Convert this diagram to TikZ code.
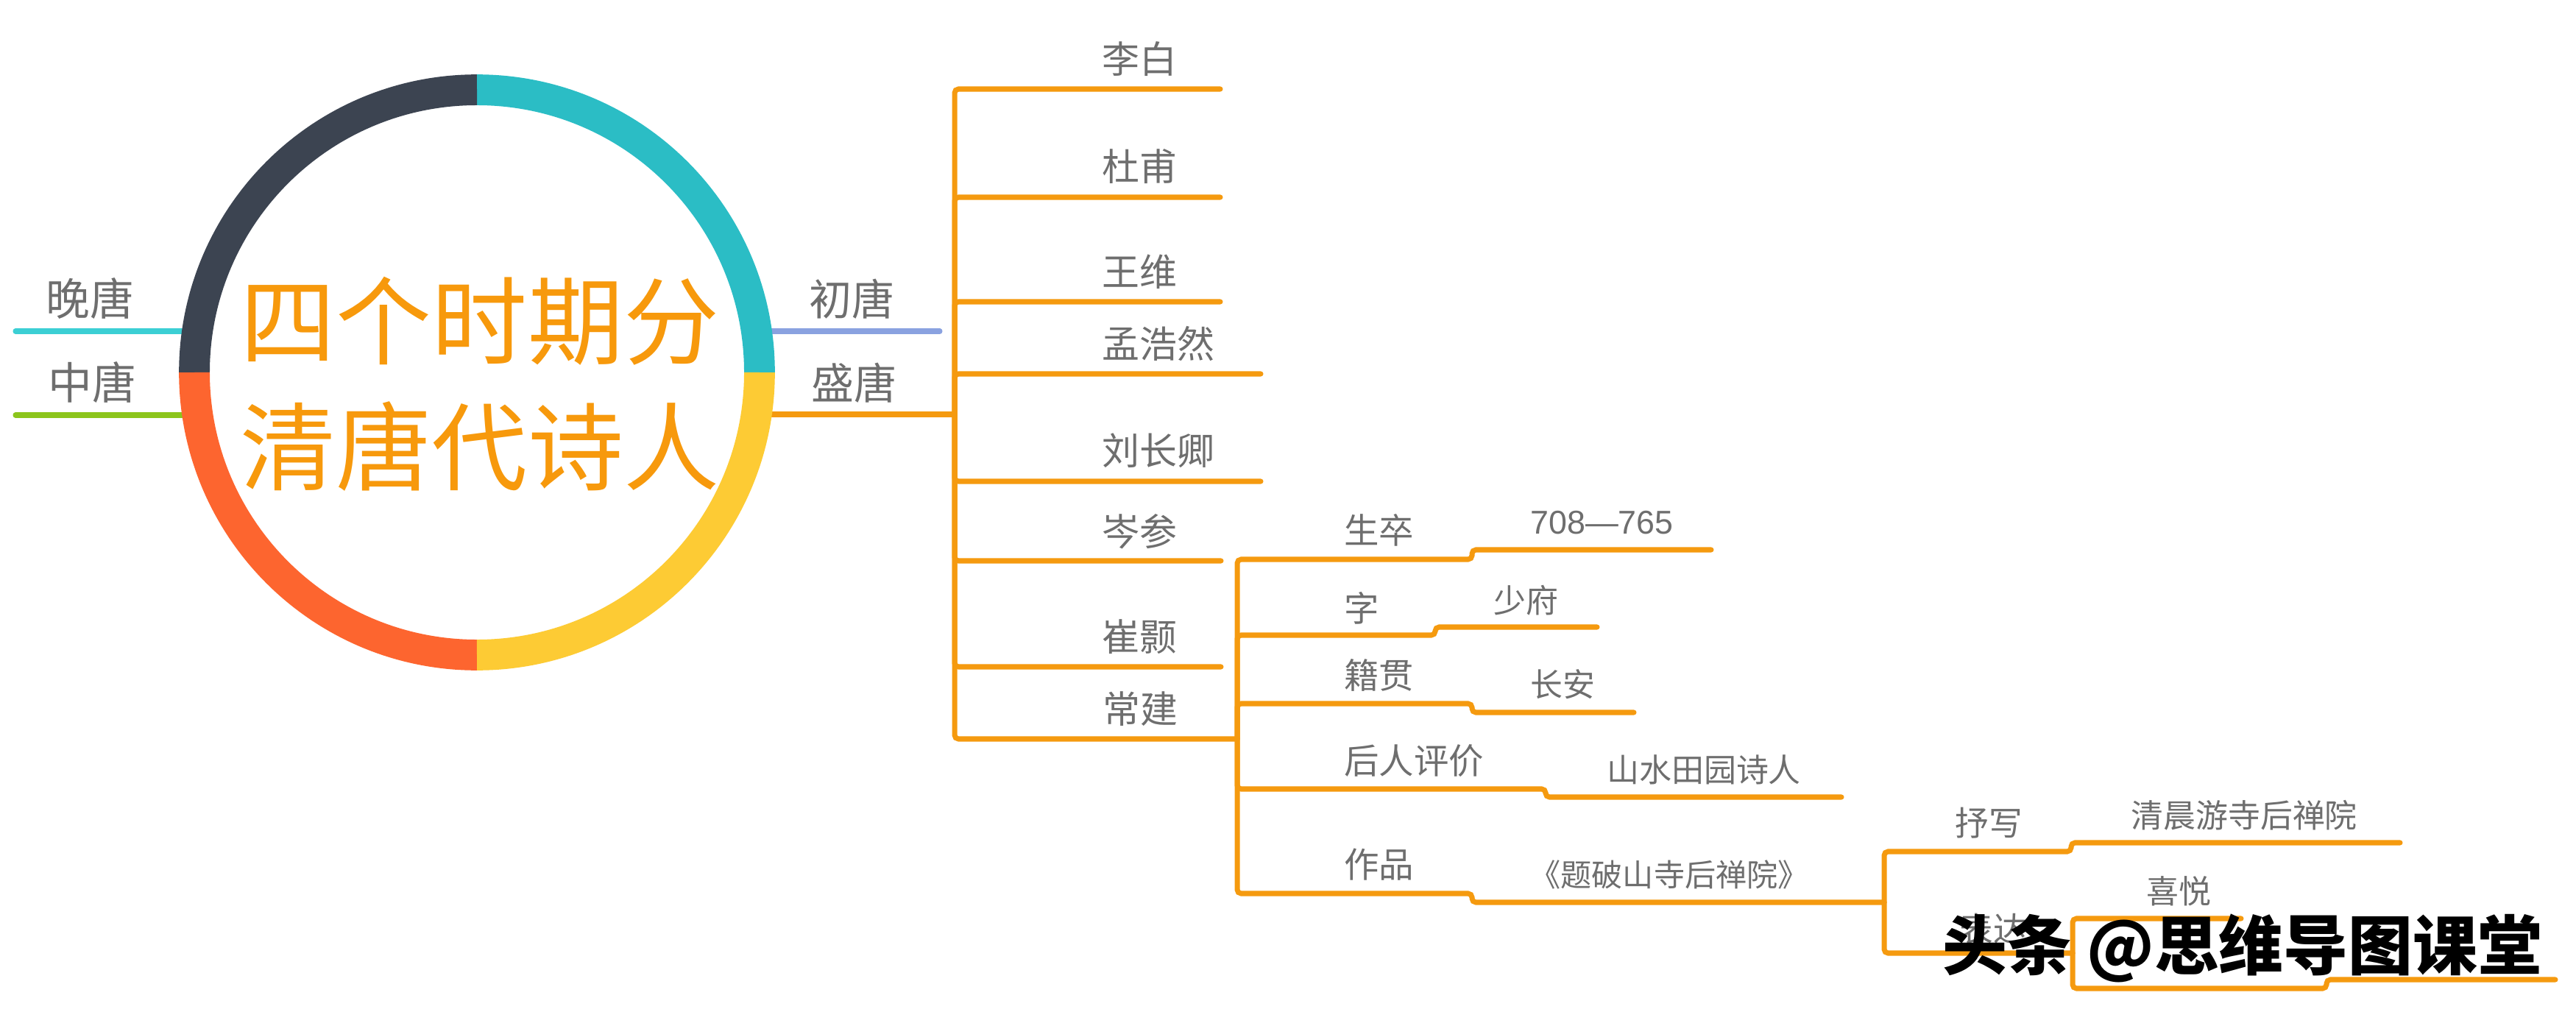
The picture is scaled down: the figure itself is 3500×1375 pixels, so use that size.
\documentclass[tikz,border=0pt]{standalone}
\usepackage{fontspec}
\setmainfont{Liberation Sans}
\newfontfamily\cjk{Noto Sans CJK SC}
\usetikzlibrary{calc}
\definecolor{lineor}{HTML}{F59A0F}
\definecolor{txtgray}{HTML}{6E6E6E}
\definecolor{ringdark}{HTML}{3C4451}
\definecolor{ringteal}{HTML}{2BBDC5}
\definecolor{ringyellow}{HTML}{FDCB34}
\definecolor{ringred}{HTML}{FD652F}
\definecolor{lcyan}{HTML}{3CCFD4}
\definecolor{lgreen}{HTML}{8CC51C}
\definecolor{lblue}{HTML}{8AA2E0}
\definecolor{centor}{HTML}{F7990C}
\tikzset{
  br/.style={draw=lineor, line width=4pt, rounded corners=3pt, line cap=round},
  ring/.style={line width=23.8pt, line cap=butt},
  lbl/.style={font=\cjk\fontsize{#1}{#1}\selectfont, text=txtgray, inner sep=0pt, anchor=west},
  lbl/.default=29pt,
  numlbl/.style={font=\fontsize{25.5pt}{25.5pt}\selectfont, text=txtgray, inner sep=0pt, anchor=west},
  ctitle/.style={font=\cjk\fontsize{74pt}{74pt}\selectfont, text=centor, inner sep=0pt},
  wmark/.style={font=\cjk\bfseries\fontsize{50pt}{50pt}\selectfont, inner sep=0pt}
}
\begin{document}
\begin{tikzpicture}[x=0.02cm,y=-0.02cm]
\useasboundingbox (0,0) rectangle (3500,1375);
\fill[white] (0,0) rectangle (3500,1375);

% junctions
\coordinate (C) at (648,506);
\coordinate (J1) at (1297,563);
\coordinate (J2) at (1681,1004);
\coordinate (J3) at (2560,1226);
\coordinate (J4) at (2816,1295);

% left / right first level lines
\coordinate (wanS) at (21,450);  \coordinate (wanE) at (260,450);
\coordinate (zhongS) at (21,564); \coordinate (zhongE) at (260,564);
\coordinate (chuS) at (1040,450); \coordinate (chuE) at (1277,450);
\coordinate (shengS) at (1040,563);
\draw[line width=4pt, line cap=round, draw=lcyan] (wanS) -- (wanE);
\draw[line width=4pt, line cap=round, draw=lgreen] (zhongS) -- (zhongE);
\draw[line width=4pt, line cap=round, draw=lblue] (chuS) -- (chuE);
\draw[br] (shengS) -- (J1);

% ring
\draw[ring, draw=ringteal] ([shift={(0:7.68cm)}]C) arc[start angle=0, end angle=90, radius=7.68cm];
\draw[ring, draw=ringdark] ([shift={(90:7.68cm)}]C) arc[start angle=90, end angle=180, radius=7.68cm];
\draw[ring, draw=ringred] ([shift={(180:7.68cm)}]C) arc[start angle=180, end angle=270, radius=7.68cm];
\draw[ring, draw=ringyellow] ([shift={(270:7.68cm)}]C) arc[start angle=270, end angle=360, radius=7.68cm];

% central title
\node[ctitle] (t1) at (652,436) {四个时期分};
\node[ctitle] (t2) at (652,607) {清唐代诗人};

% top-level labels
\node[lbl=34pt] (wan) at (62,406) {晚唐};
\node[lbl=34pt] (zhong) at (65,520) {中唐};
\node[lbl=33pt] (chu) at (1099,406) {初唐};
\node[lbl=33pt] (sheng) at (1102,520) {盛唐};

% level 1 (from 盛唐)
\coordinate (e1) at (1658,121);
\coordinate (e2) at (1658,268);
\coordinate (e3) at (1658,410);
\coordinate (e4) at (1713,508);
\coordinate (e5) at (1713,654);
\coordinate (e6) at (1659,762);
\coordinate (e7) at (1659,906);
\foreach \e in {e1,e2,e3,e4,e5,e6,e7} \draw[br] (J1) |- (\e);
\draw[br] (J1) |- (J2);

\node[lbl] (libai) at (1497,80) {李白};
\node[lbl] (dufu) at (1497,226) {杜甫};
\node[lbl] (wangwei) at (1497,369) {王维};
\node[lbl] (meng) at (1497,467) {孟浩然};
\node[lbl] (liu) at (1497,612) {刘长卿};
\node[lbl] (cen) at (1497,722) {岑参};
\node[lbl] (cui) at (1497,865) {崔颢};
\node[lbl] (chang) at (1498,963) {常建};

% level 2 (from 常建)
\draw[br] (J2) |- (2000,760) -- (2000,747) -- (2325,747);
\draw[br] (J2) |- (1950,863) -- (1950,852) -- (2170,852);
\draw[br] (J2) |- (2000,956) -- (2000,968) -- (2220,968);
\draw[br] (J2) |- (2100,1072) -- (2100,1083) -- (2502,1083);
\draw[br] (J2) |- (2000,1214) -- (2000,1226) -- (J3);

\node[lbl=27pt] (shengzu) at (1826,720) {生卒};
\node[lbl=27pt] (zi) at (1826,826) {字};
\node[lbl=27pt] (jiguan) at (1826,917) {籍贯};
\node[lbl=27pt] (pingjia) at (1826,1034) {后人评价};
\node[lbl=27pt] (zuopin) at (1826,1175) {作品};

\node[numlbl] (years) at (2079,710) {708—765};
\node[lbl=25pt] (shaofu) at (2029,816) {少府};
\node[lbl=25pt] (changan) at (2079,930) {长安};
\node[lbl=25pt] (shanshui) at (2183,1046) {山水田园诗人};
\node[lbl=24pt] (poem) at (2078,1188) {《题破山寺后禅院》};

% level 3 (from 作品)
\draw[br] (J3) |- (2814,1157) -- (2814,1145) -- (3261,1145);
\draw[br] (J3) |- (J4);
\node[lbl=26pt] (shuxie) at (2656,1118) {抒写};
\node[lbl=25pt] (qingchen) at (2895,1108) {清晨游寺后禅院};
\node[lbl=26pt] (biaoda) at (2662,1262) {表达};

% level 4 (from 表达)
\draw[br] (J4) |- (3045,1248);
\draw[br] (J4) |- (3161,1343) -- (3161,1331) -- (3472,1331);
\node[lbl=25pt] (xiyue) at (2916,1211) {喜悦};

% watermark
\node[wmark, text=black] (wm) at (3047,1288) {头条 @思维导图课堂};
\end{tikzpicture}
\end{document}
